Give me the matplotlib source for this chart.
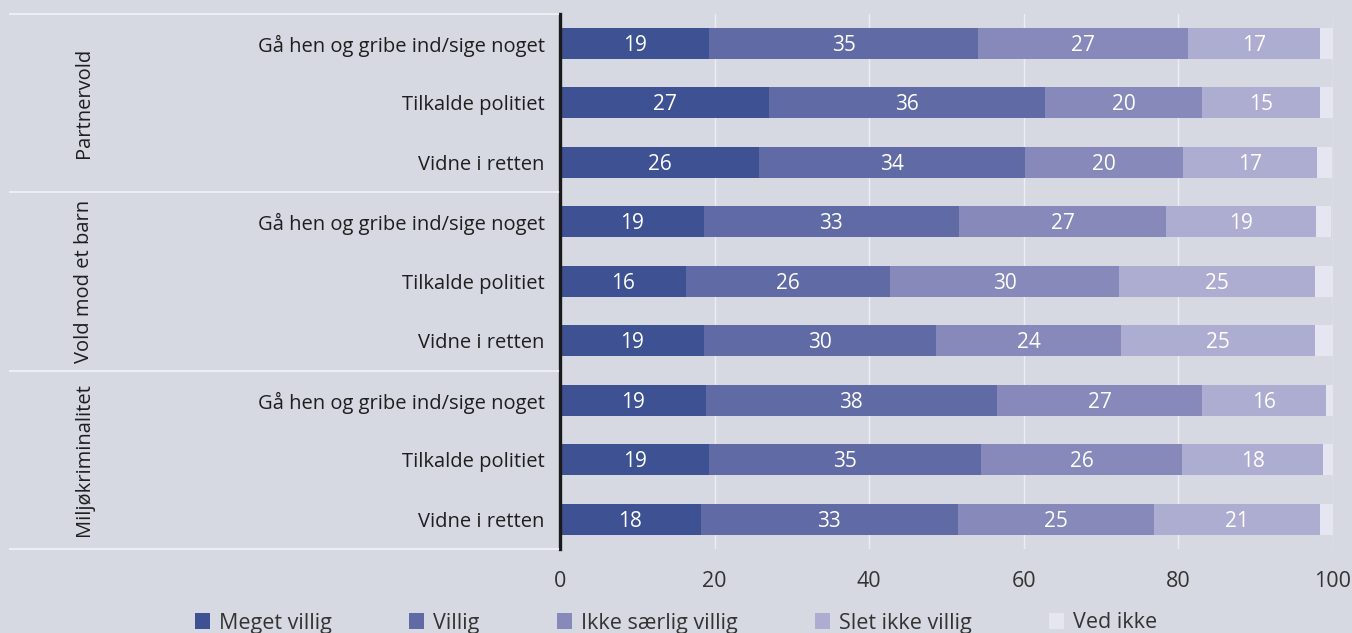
import matplotlib.pyplot as plt
import matplotlib.transforms as mtransforms
from matplotlib.lines import Line2D
from matplotlib.patches import Patch

plt.rcParams['font.family'] = ['Open Sans', 'DejaVu Sans']

groups = ["Partnervold", "Vold mod et barn", "Miljøkriminalitet"]
actions = ["Gå hen og gribe ind/sige noget", "Tilkalde politiet", "Vidne i retten"]
series = ["Meget villig", "Villig", "Ikke særlig villig", "Slet ikke villig", "Ved ikke"]

# rows: Partnervold x3, Vold mod et barn x3, Miljøkriminalitet x3
meget_villig = [19.3, 27.1, 25.8, 18.6, 16.3, 18.6, 18.9, 19.3, 18.2]
villig = [34.8, 35.6, 34.4, 33.0, 26.4, 30.1, 37.6, 35.2, 33.3]
ikke_saerlig = [27.1, 20.4, 20.4, 26.8, 29.6, 23.9, 26.6, 26.0, 25.4]
slet_ikke = [17.1, 15.2, 17.3, 19.4, 25.4, 25.1, 16.0, 18.2, 21.4]
ved_ikke = [1.8, 1.7, 2.0, 2.0, 2.3, 2.3, 0.9, 1.3, 1.7]

values = [meget_villig, villig, ikke_saerlig, slet_ikke, ved_ikke]
colors = ["#3d5193", "#606aa5", "#8689b9", "#adadd2", "#e6e6f2"]
bg = "#d6d9e2"
grid_col = "#eceef3"
txt = "#1e1e1e"

W, H = 1352, 633
fig = plt.figure(figsize=(W / 100, H / 100), dpi=100, facecolor=bg)
ax = fig.add_axes([560 / W, 1 - 549 / H, 773 / W, (549 - 13.5) / H])
ax.set_facecolor(bg)

labels = actions * len(groups)
y = list(range(len(labels)))
left = [0.0] * len(labels)
for vals, col, name in zip(values, colors, series):
    ax.barh(y, vals, left=left, height=0.52, color=col, label=name, zorder=3)
    if name != "Ved ikke":
        for yi, l, v in zip(y, left, vals):
            ax.text(l + v / 2, yi + 0.03, f"{round(v):d}", ha="center", va="center",
                    color="white", fontsize=15, zorder=4)
    left = [a + b for a, b in zip(left, vals)]

ax.set_xlim(0, 100)
ax.set_ylim(len(labels) - 0.5, -0.5)
ax.set_xticks(range(0, 101, 20))
ax.set_yticks(y)
ax.set_yticklabels(labels, fontsize=14.5, color=txt)
ax.tick_params(axis="y", length=0, pad=11)
ax.tick_params(axis="x", length=0, pad=16, labelsize=15.5, labelcolor="#333333")
ax.grid(axis="x", color=grid_col, linewidth=1, zorder=1)
ax.set_axisbelow(True)
for s in ["top", "right", "bottom"]:
    ax.spines[s].set_visible(False)
ax.spines["left"].set_linewidth(2.4)
ax.spines["left"].set_color("#1a1a1a")
ax.spines["left"].set_zorder(5)

# group separators and labels on the left
tr = mtransforms.blended_transform_factory(fig.transFigure, ax.transData)
for yy in [-0.5, 2.5, 5.5, 8.5]:
    fig.add_artist(Line2D([10 / W, 558 / W], [yy, yy], transform=tr,
                          color=grid_col, linewidth=1.5))
for i, g in enumerate(groups):
    fig.text(84 / W, 3 * i + 1, g, transform=tr, rotation=90, ha="center",
             va="center", fontsize=14.5, color=txt)

handles = [Patch(facecolor=c, edgecolor="none") for c in colors]
leg = fig.legend(handles, series, loc="center", bbox_to_anchor=(0.5, 1 - 623 / H),
                 ncol=5, frameon=False, fontsize=15.5, handlelength=0.7,
                 handleheight=0.7, handletextpad=0.4, columnspacing=3.6,
                 labelcolor="#333333")

fig.savefig("out.png", dpi=100, facecolor=bg)
